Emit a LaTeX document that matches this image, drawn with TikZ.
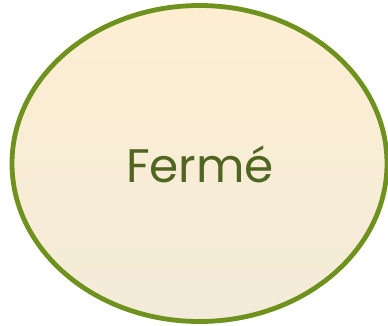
\documentclass[tikz,border=0pt]{standalone}
\usepackage{fontspec}
\setmainfont{Poppins}
\usetikzlibrary{shapes.geometric}
\definecolor{rim}{HTML}{6F921E}
\definecolor{txt}{HTML}{4F6521}
\definecolor{topc}{HTML}{FDEED2}
\definecolor{botc}{HTML}{F3EBD9}
\tikzset{state/.style={ellipse, draw=rim, line width=4.8pt, top color=topc, bottom color=botc, minimum width=375pt, minimum height=316pt, inner sep=0pt}}
\begin{document}
\begin{tikzpicture}[x=1pt,y=-1pt]
\useasboundingbox (0,0) rectangle (388,325);
\node[state] (ferme) at (199.5,163.5) {};
\node[text=txt, font=\fontsize{47}{56}\selectfont, anchor=base] (label) at (200,182) {Fermé};
\end{tikzpicture}
\end{document}
